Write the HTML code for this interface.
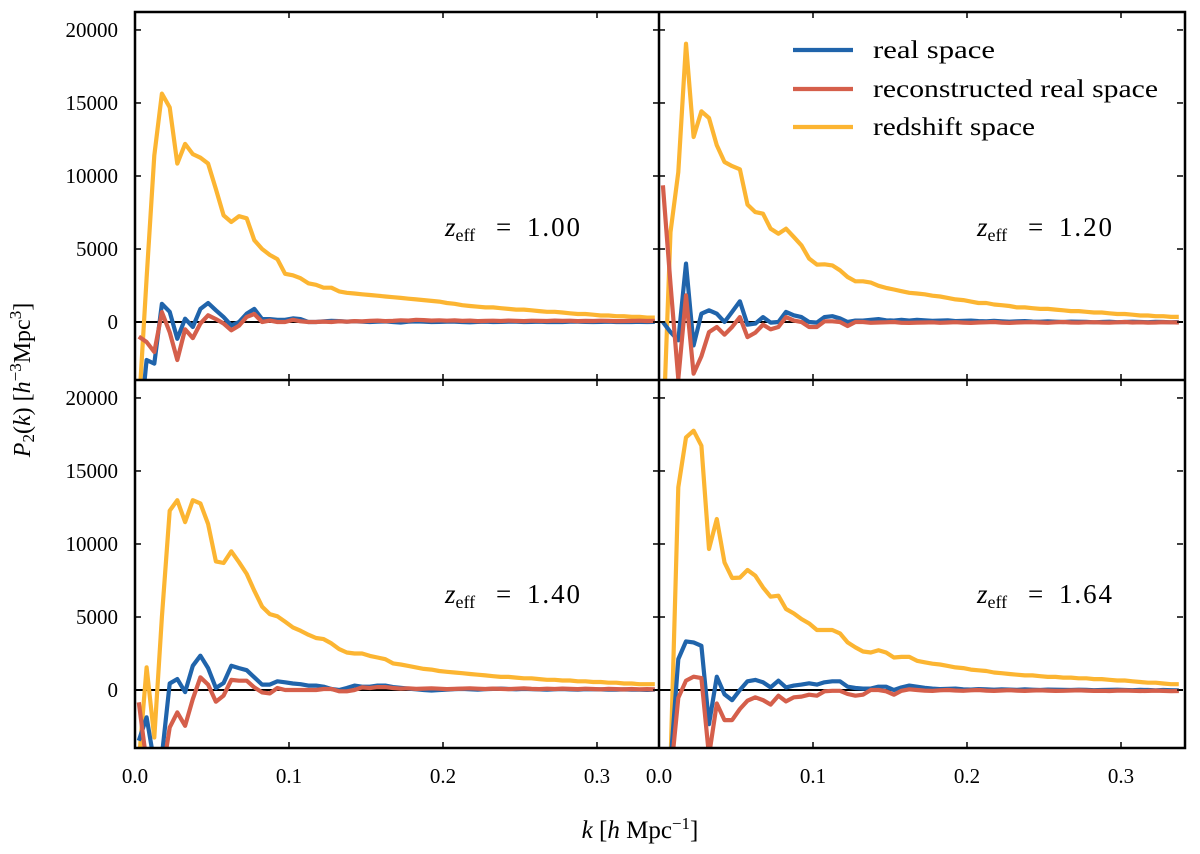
<!DOCTYPE html>
<html><head><meta charset="utf-8"><style>
html,body{margin:0;padding:0;background:#fff;}
svg{display:block;font-family:"Liberation Serif",serif;}
</style></head><body>
<svg id="chart" width="1200" height="854" viewBox="0 0 1200 854" xmlns="http://www.w3.org/2000/svg"></svg>
<script>
// ---- data ----
const kStart = 0.0025;
const kStep = 0.005;
const yTicks = [0, 5000, 10000, 15000, 20000];
const xTicks = [0.0, 0.1, 0.2, 0.3];
const xTickLabels = ["0.0", "0.1", "0.2", "0.3"];
const panelLabels = ["1.00", "1.20", "1.40", "1.64"];
const seriesNames = ["real space", "reconstructed real space", "redshift space"];

const realZ100 = [-8000,-2600,-2850,1250,700,-1150,230,-340,900,1300,800,340,-230,0,570,900,200,200,150,150,250,200,0,0,50,80,60,30,50,20,0,30,40,0,-30,20,40,30,0,10,20,30,0,-20,10,20,0,10,30,20,0,10,20,0,10,0,20,30,10,0,10,20,0,10,0,10,0,10];
const reconZ100 = [-1000,-1370,-2050,680,-700,-2600,-500,-1100,-100,460,200,-100,-570,-250,350,550,0,100,0,0,150,50,0,0,30,0,50,20,60,40,80,100,60,80,120,100,150,130,100,120,90,110,80,100,60,80,90,70,100,80,60,90,80,70,100,80,90,60,80,70,90,80,60,70,80,90,70,80];
const redshiftZ100 = [-6000,3000,11400,15640,14700,10850,12200,11500,11250,10850,9100,7300,6850,7250,7100,5600,5000,4600,4300,3300,3200,3000,2650,2550,2350,2350,2100,2000,1950,1900,1850,1800,1750,1700,1650,1600,1550,1500,1450,1400,1300,1250,1150,1100,1050,1000,1000,950,900,850,850,800,750,700,700,650,600,550,550,500,450,450,400,400,350,350,300,300];

const realZ120 = [0,-690,-1250,4000,-1600,570,800,570,0,690,1420,-180,-110,340,-40,0,690,460,340,0,-40,340,400,250,0,100,100,150,200,120,100,150,100,150,120,80,100,120,60,80,100,60,40,80,50,20,40,60,30,20,40,20,0,30,20,10,-20,0,20,-10,0,20,0,-10,10,0,-20,0];
const reconZ120 = [9360,2600,-3900,1830,-3540,-2350,-690,-340,-870,-340,340,-1030,-730,-180,-500,-340,340,100,0,-340,-340,50,50,0,-270,0,0,-50,-30,-20,0,-50,-60,-40,-30,-20,-50,-30,-10,-40,-60,-30,-20,0,-40,-60,-30,-20,-10,-30,-50,-20,0,-30,-40,-20,-10,-30,-40,-20,0,-30,-20,-40,-30,-10,-20,-30];
const redshiftZ120 = [-8000,6160,10270,19060,12670,14430,13970,12100,10960,10680,10460,8040,7530,7420,6390,6050,6390,5820,5250,4340,3930,3950,3880,3540,3080,2790,2790,2700,2480,2340,2230,2110,2000,1950,1900,1800,1750,1650,1550,1500,1400,1300,1300,1200,1150,1100,1000,1000,950,900,900,850,800,750,750,700,650,650,600,550,550,500,450,450,400,400,350,350];

const realZ140 = [-3470,-1870,-5000,-4500,450,750,-140,1660,2350,1500,140,480,1660,1500,1360,870,370,370,600,530,450,400,300,300,230,70,0,140,300,230,230,300,300,200,150,100,50,0,-30,0,30,60,80,50,30,60,80,100,70,50,80,60,40,30,50,70,40,30,60,50,40,30,20,40,30,20,10,20];
const reconZ140 = [-840,-5000,-5000,-6000,-2560,-1530,-2450,-620,870,370,-800,-380,690,640,640,180,-160,-230,140,0,0,0,0,0,70,70,-90,-90,0,180,140,200,200,140,100,120,80,100,120,90,60,80,100,120,90,70,100,80,60,90,110,80,60,90,70,100,80,60,90,70,50,80,60,40,70,50,60,40];
const redshiftZ140 = [-5000,1550,-3250,5000,12280,13000,11500,13000,12780,11370,8810,8700,9500,8750,7950,6800,5710,5200,5050,4680,4290,4060,3790,3560,3490,3190,2800,2570,2500,2500,2340,2230,2110,1820,1750,1650,1550,1450,1400,1300,1250,1200,1150,1100,1050,1000,950,900,900,850,800,800,750,700,700,650,650,600,600,550,550,500,500,450,450,400,400,400];

const realZ164 = [-8000,-5000,2120,3330,3260,3030,-2330,910,-290,-700,0,600,690,530,180,640,180,300,370,460,370,530,600,600,230,140,100,100,230,230,0,180,300,230,150,100,60,80,100,50,30,60,40,20,50,30,10,40,20,0,30,20,10,0,20,10,-10,0,10,20,0,-10,10,0,-20,0,-10,-20];
const reconZ164 = [-8000,-6000,-530,640,910,820,-4500,-920,-2060,-2060,-1300,-730,-500,-690,-1000,-390,-780,-500,-450,-320,-390,-90,-50,-50,-270,-390,-320,0,0,-90,-320,-50,50,0,-40,-60,-20,0,-30,-50,-20,0,-40,-60,-30,-10,-40,-60,-30,-20,-40,-60,-50,-30,-20,-40,-60,-50,-70,-40,-30,-50,-70,-60,-40,-60,-80,-70];
const redshiftZ164 = [-8000,-5000,13880,17300,17760,16730,9660,11710,8740,7670,7700,8220,7830,7030,6390,6460,5550,5250,4860,4560,4110,4110,4110,3880,3260,2920,2640,2570,2730,2570,2230,2270,2270,2000,1900,1800,1750,1650,1550,1500,1400,1350,1300,1200,1150,1100,1050,1000,1000,950,900,900,850,850,800,800,750,750,700,650,650,600,550,500,500,450,400,400];

// ---- layout ----
const svg = document.getElementById('chart');
const NS = "http://www.w3.org/2000/svg";
const X0 = 135, XM = 659, X1 = 1185, Y0 = 12, YM = 380, Y1 = 748;
const kMax = (XM - X0) / 1540;
const yMin = -3970, yMax = 21230;
const colors = ["#2064ab", "#d55f4b", "#fcb532"];

function el(tag, attrs, parent) {
  const e = document.createElementNS(NS, tag);
  for (const a in attrs) e.setAttribute(a, attrs[a]);
  (parent || svg).appendChild(e);
  return e;
}

const panels = [
  {x: X0, y: Y0, data: [realZ100, reconZ100, redshiftZ100], label: panelLabels[0], lx: 445, ly: 236},
  {x: XM, y: Y0, data: [realZ120, reconZ120, redshiftZ120], label: panelLabels[1], lx: 977, ly: 236},
  {x: X0, y: YM, data: [realZ140, reconZ140, redshiftZ140], label: panelLabels[2], lx: 445, ly: 603},
  {x: XM, y: YM, data: [realZ164, reconZ164, redshiftZ164], label: panelLabels[3], lx: 977, ly: 603}
];
const PW = XM - X0, PH = YM - Y0;

const defs = el('defs', {});
panels.forEach((p, pi) => {
  const cp = el('clipPath', {id: 'clip' + pi}, defs);
  el('rect', {x: p.x, y: p.y, width: PW, height: PH}, cp);
});

panels.forEach((p, pi) => {
  const xs = k => p.x + (k / kMax) * PW;
  const ys = v => p.y + PH - (v - yMin) / (yMax - yMin) * PH;
  const g = el('g', {'clip-path': 'url(#clip' + pi + ')'});
  
  
  const zl = el('line', {x1: p.x, x2: p.x + PW, y1: ys(0), y2: ys(0), stroke: '#000', 'stroke-width': 2}, g);
  
  
  [2, 0, 1].forEach(si => {
    const arr = p.data[si];
    const pts = arr.map((v, i) => xs(kStart + kStep * i).toFixed(1) + ',' + ys(v).toFixed(1)).join(' ');
    const pl = el('polyline', {points: pts, fill: 'none', stroke: colors[si], 'stroke-width': 4.2, 'stroke-linejoin': 'round'}, g);
    
    
  });
  xTicks.forEach(k => {
    const x = xs(k);
    el('line', {x1: x, x2: x, y1: p.y + PH, y2: p.y + PH - 6, stroke: '#000', 'stroke-width': 1.5});
    el('line', {x1: x, x2: x, y1: p.y, y2: p.y + 6, stroke: '#000', 'stroke-width': 1.5});
  });
  yTicks.forEach(v => {
    const y = ys(v);
    el('line', {x1: p.x, x2: p.x + 6, y1: y, y2: y, stroke: '#000', 'stroke-width': 1.5});
    el('line', {x1: p.x + PW, x2: p.x + PW - 6, y1: y, y2: y, stroke: '#000', 'stroke-width': 1.5});
  });
  if (p.x === X0) {
    yTicks.forEach(v => {
      const t = el('text', {x: 118, y: ys(v) + 7, 'text-anchor': 'end', 'font-size': 21});
      t.textContent = String(v);
      
      
    });
  }
  if (p.y === YM) {
    xTicks.forEach((k, i) => {
      const t = el('text', {x: xs(k), y: 783, 'text-anchor': 'middle', 'font-size': 21});
      t.textContent = xTickLabels[i];
      
      
    });
  }
  const lab = el('text', {x: p.lx, y: p.ly, 'font-size': 27});
  
  
  lab.innerHTML = '<tspan font-style="italic">z</tspan><tspan font-size="18" dy="5">eff</tspan><tspan x="' + (p.lx + 51) + '" dy="-5">=</tspan><tspan x="' + (p.lx + 82) + '" textLength="53">' + p.label + '</tspan>';
});

// frame
el('rect', {x: X0, y: Y0, width: X1 - X0, height: Y1 - Y0, fill: 'none', stroke: '#000', 'stroke-width': 2.5});
el('line', {x1: XM, x2: XM, y1: Y0, y2: Y1, stroke: '#000', 'stroke-width': 2.5});
el('line', {x1: X0, x2: X1, y1: YM, y2: YM, stroke: '#000', 'stroke-width': 2.5});

// legend
const legendWidths = [122, 285, 162];
const leg = el('g', {});


[50, 89, 127].forEach((y, i) => {
  const ln = el('line', {x1: 793, x2: 853, y1: y, y2: y, stroke: colors[i], 'stroke-width': 4.2}, leg);
  
  
  const t = el('text', {x: 873, y: y + 8, 'font-size': 25, textLength: legendWidths[i], lengthAdjust: 'spacingAndGlyphs'}, leg);
  t.textContent = seriesNames[i];
  
  
});

// axis titles
const yl = el('text', {x: 0, y: 0, 'font-size': 24, 'text-anchor': 'middle', transform: 'translate(30,380) rotate(-90)'});


yl.innerHTML = '<tspan font-style="italic">P</tspan><tspan font-size="17" dy="4">2</tspan><tspan dy="-4">(</tspan><tspan font-style="italic">k</tspan>)  [<tspan font-style="italic">h</tspan><tspan font-size="17" dy="-9">−3</tspan><tspan dy="9">Mpc</tspan><tspan font-size="17" dy="-9">3</tspan><tspan dy="9">]</tspan>';
const xl = el('text', {x: 640, y: 838, 'font-size': 25, 'text-anchor': 'middle'});


xl.innerHTML = '<tspan font-style="italic">k</tspan>  [<tspan font-style="italic">h</tspan>  Mpc<tspan font-size="17" dy="-9">−1</tspan><tspan dy="9">]</tspan>';
</script>
</body></html>
